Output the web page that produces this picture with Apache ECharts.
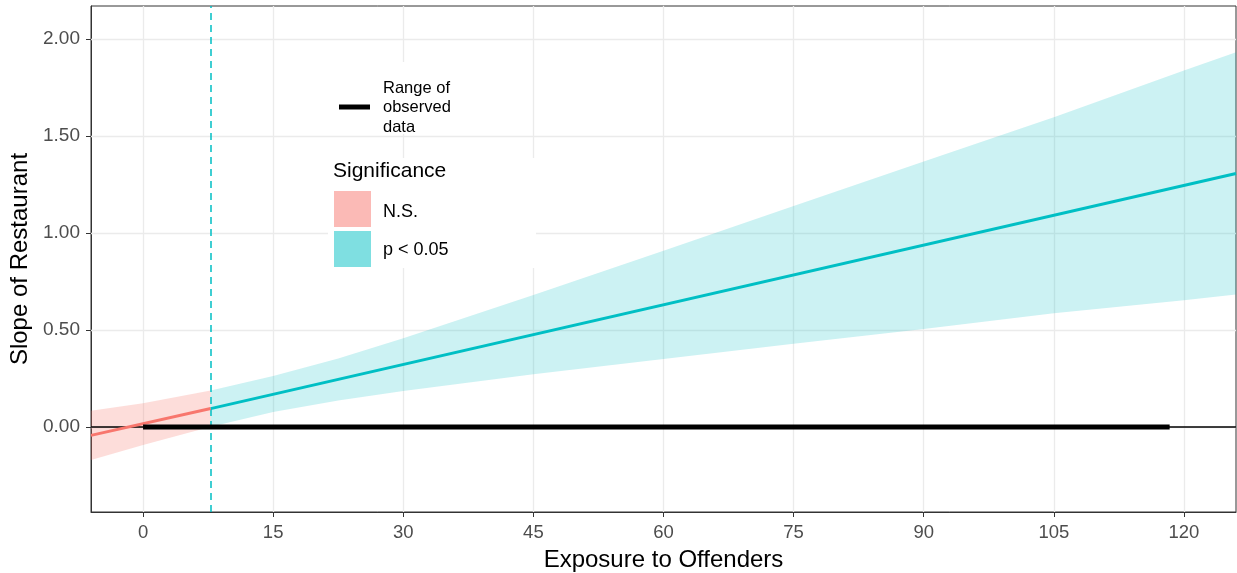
<!DOCTYPE html>
<html>
<head>
<meta charset="utf-8">
<script src="https://cdn.jsdelivr.net/npm/echarts@6/dist/echarts.min.js"></script>
<style>html,body{margin:0;padding:0;background:#fff}#c{width:1237px;height:573px}</style>
</head>
<body>
<div id="c"></div>
<script>
// ---- data ----
const xTicks = [0, 15, 30, 45, 60, 75, 90, 105, 120];
const yTicks = [0, 0.5, 1.0, 1.5, 2.0];
const xRange = [-6, 126];
const yRange = [-0.438, 2.17];
const jnPoint = 7.8;
const observedRange = [0, 118.35];

const nsLineX = [-6, 7.8];
const nsLineY = [-0.043, 0.095];
const sigLineX = [7.8, 126];
const sigLineY = [0.095, 1.307];

const nsBandX  = [-6, 0, 7.8];
const nsBandLo = [-0.170, -0.093, 0.002];
const nsBandHi = [0.084, 0.123, 0.188];

const sigBandX  = [7.8, 15, 22.5, 30, 45, 60, 75, 90, 105, 120, 126];
const sigBandLo = [0.002, 0.077, 0.137, 0.186, 0.272, 0.351, 0.429, 0.505, 0.586, 0.653, 0.683];
const sigBandHi = [0.188, 0.263, 0.353, 0.458, 0.681, 0.909, 1.139, 1.369, 1.596, 1.837, 1.931];

const RED = '#F8766D', TEAL = '#00BFC4';
const FONT = '"Liberation Sans", Arial, sans-serif';

function zip(a, b) { return a.map((v, i) => [v, b[i]]); }

function band(xs, lo, hi, fill) {
  return {
    type: 'custom', silent: true, z: 2,
    data: [[xs[0], lo[0]]],
    renderItem: function (params, api) {
      const pts = [];
      for (let i = 0; i < xs.length; i++) pts.push(api.coord([xs[i], hi[i]]));
      for (let i = xs.length - 1; i >= 0; i--) pts.push(api.coord([xs[i], lo[i]]));
      return { type: 'polygon', shape: { points: pts }, style: { fill: fill } };
    }
  };
}

const chart = echarts.init(document.getElementById('c'), null, { renderer: 'canvas' });
const gridLineStyle = { color: '#ebebeb', width: 1.3, type: 'solid' };

chart.setOption({
  animation: false,
  backgroundColor: '#fff',
  grid: { left: 91, top: 6, width: 1145, height: 506, containLabel: false, outerBoundsMode: 'none',
    show: true, borderColor: '#333', borderWidth: 1, backgroundColor: 'transparent' },
  xAxis: {
    type: 'value', min: xRange[0], max: xRange[1],
    name: 'Exposure to Offenders', nameLocation: 'middle', nameGap: 36,
    nameTextStyle: { fontFamily: FONT, fontSize: 24, color: '#000' },
    axisLine: { show: true, onZero: false, lineStyle: { color: '#333', width: 1 } },
    axisTick: { show: true, length: 5, customValues: xTicks, lineStyle: { color: '#333', width: 1 } },
    axisLabel: { customValues: xTicks, margin: 11, fontFamily: FONT, fontSize: 18.5, color: '#4d4d4d' },
    splitLine: { show: false }
  },
  yAxis: {
    type: 'value', min: yRange[0], max: yRange[1],
    name: 'Slope of Restaurant', nameLocation: 'middle', nameGap: 57, nameRotate: 90,
    nameTextStyle: { fontFamily: FONT, fontSize: 24, color: '#000' },
    axisLine: { show: true, onZero: false, lineStyle: { color: '#333', width: 1 } },
    axisTick: { show: true, length: 5, customValues: yTicks, lineStyle: { color: '#333', width: 1 } },
    axisLabel: { customValues: yTicks, margin: 11, fontFamily: FONT, fontSize: 19, color: '#4d4d4d',
      formatter: v => v.toFixed(2) },
    splitLine: { show: false }
  },
  series: [
    { type: 'line', data: [], z: 1, silent: true,
      markLine: { z: 1, silent: true, symbol: 'none', label: { show: false }, lineStyle: gridLineStyle, animation: false,
        data: xTicks.map(v => ({ xAxis: v })).concat(yTicks.map(v => ({ yAxis: v }))) } },
    band(nsBandX, nsBandLo, nsBandHi, 'rgba(248,118,109,0.25)'),
    band(sigBandX, sigBandLo, sigBandHi, 'rgba(0,191,196,0.2)'),
    { type: 'line', z: 3, silent: true, symbol: 'none', data: [[xRange[0], 0], [xRange[1], 0]],
      lineStyle: { color: '#000', width: 1.5 } },
    { type: 'line', z: 4, silent: true, symbol: 'none', data: zip(nsLineX, nsLineY),
      lineStyle: { color: RED, width: 3 } },
    { type: 'line', z: 4, silent: true, symbol: 'none', data: zip(sigLineX, sigLineY),
      lineStyle: { color: TEAL, width: 3 },
      markLine: { z: 4, silent: true, symbol: 'none', label: { show: false }, animation: false,
        lineStyle: { color: TEAL, width: 1.5, type: [7, 5] }, data: [{ xAxis: jnPoint }] } },
    { type: 'line', z: 5, silent: true, symbol: 'none', data: [[observedRange[0], 0], [observedRange[1], 0]],
      lineStyle: { color: '#000', width: 5, cap: 'butt' } }
  ],
  graphic: [
    { type: 'rect', z: 100, shape: { x: 330, y: 62, width: 135, height: 72 }, style: { fill: '#fff' } },
    { type: 'rect', z: 100, shape: { x: 328, y: 158, width: 208, height: 110 }, style: { fill: '#fff' } },
    { type: 'rect', z: 101, shape: { x: 339, y: 104.5, width: 31, height: 5 }, style: { fill: '#000' } },
    { type: 'text', z: 101, style: { x: 383, y: 107.5, text: 'Range of\nobserved\ndata', fill: '#000',
        font: '16.5px ' + FONT, lineHeight: 19.5, verticalAlign: 'middle', align: 'left' } },
    { type: 'text', z: 101, style: { x: 333, y: 171, text: 'Significance', fill: '#000',
        font: '21px ' + FONT, verticalAlign: 'middle', align: 'left' } },
    { type: 'rect', z: 101, shape: { x: 334, y: 191, width: 37, height: 36 }, style: { fill: 'rgba(248,118,109,0.5)' } },
    { type: 'rect', z: 101, shape: { x: 334, y: 231, width: 37, height: 36 }, style: { fill: 'rgba(0,191,196,0.5)' } },
    { type: 'text', z: 101, style: { x: 383, y: 212, text: 'N.S.', fill: '#000',
        font: '18px ' + FONT, verticalAlign: 'middle', align: 'left' } },
    { type: 'text', z: 101, style: { x: 383, y: 250, text: 'p < 0.05', fill: '#000',
        font: '18px ' + FONT, verticalAlign: 'middle', align: 'left' } }
  ]
});
</script>
</body>
</html>
